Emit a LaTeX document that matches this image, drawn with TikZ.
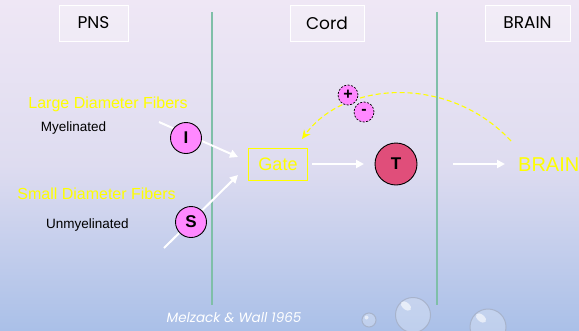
\documentclass[tikz,border=0pt]{standalone}
\usepackage{fontspec}
\setmainfont{Liberation Sans}
\newfontfamily\geofont{Poppins}
\usetikzlibrary{arrows.meta}
\definecolor{bgtop}{HTML}{EFE7F5}
\definecolor{bgmid}{HTML}{DEDCF0}
\definecolor{bgbot}{HTML}{AAC0E8}
\definecolor{divider}{HTML}{7FBFA8}
\definecolor{fibercol}{HTML}{FF88FF}
\definecolor{tcol}{HTML}{E04E7A}
\definecolor{ylw}{HTML}{FFFF00}
\definecolor{bubblerim}{HTML}{A4AEC4}
\tikzset{
  x=1pt, y=-1pt,
  header/.style={draw=white, line width=0.8pt, fill=white, fill opacity=0.25, text opacity=1,
    font=\geofont\fontsize{17}{17}\selectfont, text=black, minimum height=36pt, inner sep=0pt},
  fiber/.style={circle, draw=black, line width=0.9pt, fill=fibercol, minimum size=31pt, inner sep=0pt,
    font=\bfseries\fontsize{17}{17}\selectfont},
  sign/.style={circle, draw=black, dashed, dash pattern=on 2pt off 1.5pt, line width=0.7pt, fill=fibercol,
    minimum size=20pt, inner sep=0pt, font=\bfseries\fontsize{16}{16}\selectfont},
  ylabel/.style={text=ylw, font=\fontsize{16}{16}\selectfont, inner sep=0pt},
  blabel/.style={text=black, font=\fontsize{13.5}{14}\selectfont, inner sep=0pt},
  flow/.style={draw=white, line width=2pt, -{Triangle[length=8pt,width=8pt]}},
  divline/.style={draw=divider, line width=1.3pt},
  bubble/.style={fill=white, fill opacity=0.25, draw=bubblerim, draw opacity=0.8, line width=1pt},
  glint/.style={fill=white, fill opacity=0.6, draw=none}
}
\begin{document}
\begin{tikzpicture}
% background
\shade[top color=bgtop, bottom color=bgbot, middle color=bgmid] (0,0) rectangle (579,330);
\useasboundingbox (0,0) rectangle (579,330);

% region dividers
\coordinate (d1t) at (212,12); \coordinate (d1b) at (212,305);
\coordinate (d2t) at (437,12); \coordinate (d2b) at (437,305);
\draw[divline] (d1t) -- (d1b);
\draw[divline] (d2t) -- (d2b);

% headers
\node[header, minimum width=69pt] (pns) at (93.5,23) {PNS};
\node[header, minimum width=74pt] (cord) at (327,23) {Cord};
\node[header, minimum width=85pt] (brainhdr) at (527.5,23) {BRAIN};

% fiber labels
\node[ylabel] (large) at (108,104) {Large Diameter Fibers};
\node[blabel] (myel) at (73.5,128) {Myelinated};
\node[ylabel] (small) at (96.5,194) {Small Diameter Fibers};
\node[blabel] (unmyel) at (87.5,225) {Unmyelinated};

% gate, transmission cell and brain
\node[draw=ylw, line width=1pt, minimum width=59pt, minimum height=32pt, inner sep=0pt,
  text=ylw, font=\fontsize{18}{18}\selectfont] (gate) at (278,164) {Gate};
\node[circle, draw=black, line width=0.9pt, fill=tcol, minimum size=42pt, inner sep=0pt,
  font=\bfseries\fontsize{17}{17}\selectfont] (T) at (396,164) {T};
\node[text=ylw, font=\fontsize{20}{20}\selectfont, anchor=west, inner sep=0pt] (brain) at (518,165) {BRAIN};

% afferent fibers
\coordinate (ls) at (159,122);
\coordinate (le) at (238,157);
\coordinate (ss) at (164,248);
\coordinate (se) at (238,175);
\draw[flow] (ls) -- (le);
\draw[flow] (ss) -- (se);
\node[fiber] (I) at (186,138) {I};
\node[fiber] (S) at (191,222) {S};

% forward path
\coordinate (a1s) at (312,164); \coordinate (a1e) at (364,164);
\coordinate (a2s) at (453,164); \coordinate (a2e) at (505,164);
\draw[flow] (a1s) -- (a1e);
\draw[flow] (a2s) -- (a2e);

% descending control
\coordinate (fbs) at (511,141);
\coordinate (fbe) at (302,139);
\draw[draw=ylw, dashed, dash pattern=on 5pt off 3pt, line width=1.1pt, -{Stealth[length=9pt,width=8pt]}]
  (fbs) .. controls (450,75) and (345,80) .. (fbe);
\node[sign] (plus) at (348,95) {+};
\node[sign] (minus) at (364,112) {-};

% citation
\node[text=white, font=\geofont\itshape\fontsize{13.5}{13.5}\selectfont, inner sep=0pt] (cite) at (234,318) {Melzack \& Wall 1965};

% glass bubbles with a small highlight
\draw[bubble] (369,320) circle (7);
\fill[glint] (366.5,317.5) circle (2);
\draw[bubble] (413,315) circle (17.5);
\fill[glint, rotate around={-40:(406,306)}] (406,306) ellipse (6 and 3.5);
\draw[bubble] (488,327) circle (18);
\fill[glint, rotate around={-40:(481,318)}] (481,318) ellipse (6 and 3.5);
\end{tikzpicture}
\end{document}
